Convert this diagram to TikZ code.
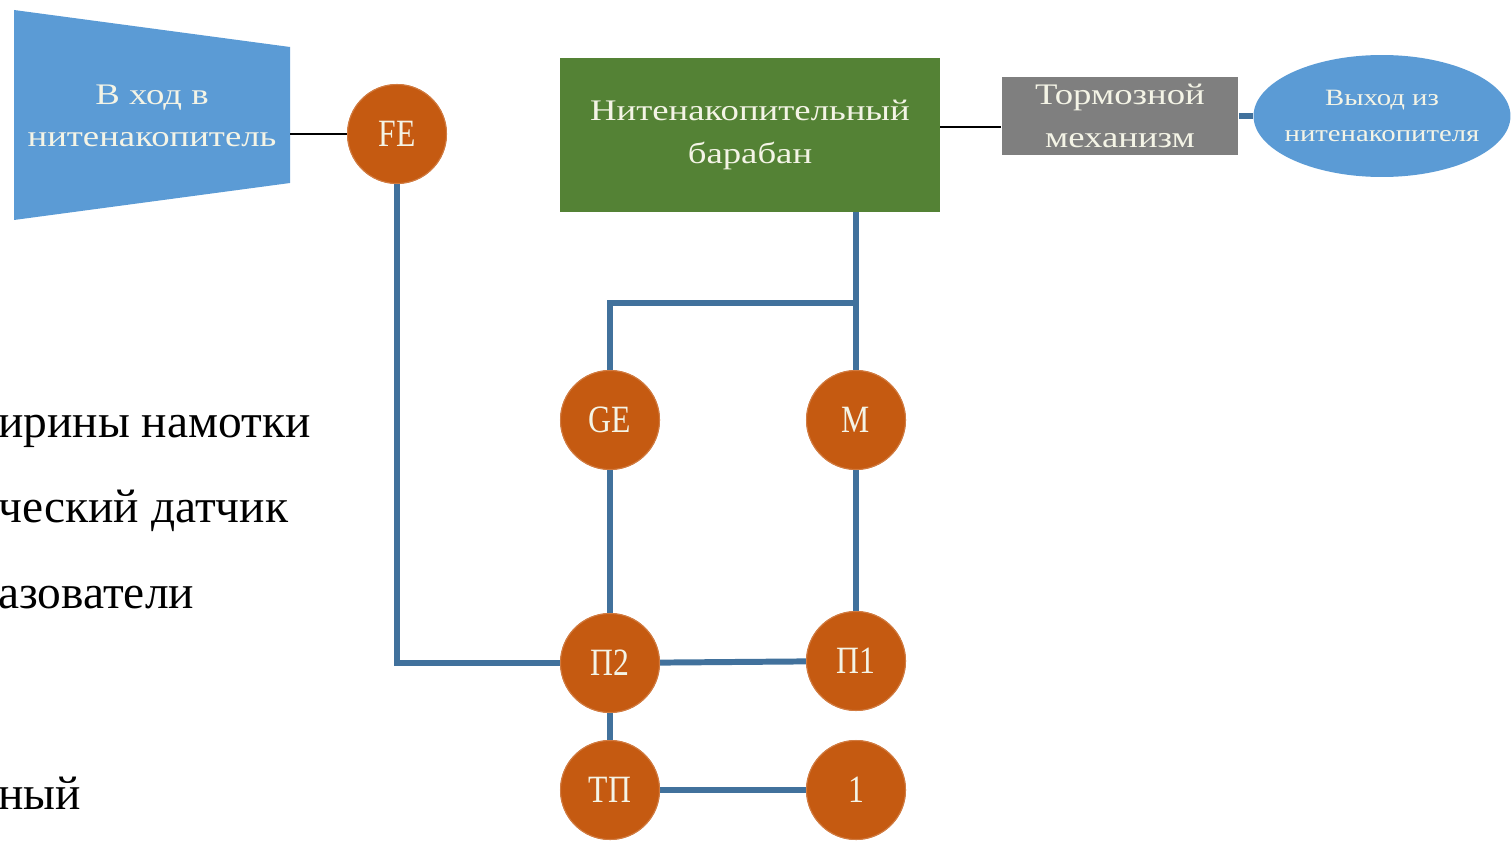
\documentclass[tikz,border=0pt]{standalone}
\usepackage{fontspec}
\setmainfont{Liberation Serif}
\newfontfamily\shapefont[FakeStretch=1.23]{Liberation Serif}
\newfontfamily\circfont[FakeStretch=0.82]{Liberation Serif}
\usetikzlibrary{shapes.geometric}
\definecolor{inblue}{HTML}{5B9BD5}
\definecolor{lineblue}{HTML}{41719C}
\definecolor{circ}{HTML}{C55A11}
\definecolor{drumgreen}{HTML}{548235}
\definecolor{brakegray}{HTML}{7F7F7F}
\definecolor{shapetext}{HTML}{F4F4E6}
\tikzset{
  blueline/.style={draw=lineblue, line width=3.4pt},
  blackline/.style={draw=black, line width=1.6pt},
  dot/.style={circle, fill=circ, draw=circ!80!white, line width=0.6pt, minimum size=1.98cm, inner sep=0pt,
     text=shapetext, font=\circfont\fontsize{22}{24}\selectfont},
  shapelbl/.style={text=shapetext, align=center, font=\shapefont\fontsize{17}{24}\selectfont},
  lefttext/.style={anchor=base west, inner sep=0pt, font=\fontsize{27}{30}\selectfont}
}
\begin{document}
\begin{tikzpicture}[x=0.02cm, y=-0.02cm]
\useasboundingbox (0,0) rectangle (1511,841);
% input trapezoid
\fill[inblue] (14,10) -- (290,47) -- (290,183) -- (14,220) -- cycle;
\node[shapelbl, minimum width=5.52cm, minimum height=2.72cm] (in) at (152,116) {В ход в\\нитенакопитель};
% drum
\node[shapelbl, fill=drumgreen, minimum width=7.6cm, minimum height=3.08cm] (drum) at (750,135) {Нитенакопительный\\барабан};
% brake
\node[shapelbl, fill=brakegray, minimum width=4.74cm, minimum height=1.58cm, inner sep=0pt] (brake) at (1120,116) {Тормозной\\механизм};
% output ellipse
\node[ellipse, fill=inblue, minimum width=5.14cm, minimum height=2.44cm, inner xsep=-14pt, inner ysep=-6pt, text=shapetext, align=center,
  font=\shapefont\fontsize{13.3}{20}\selectfont] (out) at (1382,116) {Выход из\\нитенакопителя};
% circles
\node[dot] (FE) at (397,134) {FE};
\node[dot] (GE) at (610,420) {GE};
\node[dot] (M) at (856,420) {M};
\node[dot] (P2) at (610,663) {П2};
\node[dot] (P1) at (856,661) {П1};
\node[dot] (TP) at (610,790) {ТП};
\node[dot] (one) at (856,790) {1};
\coordinate (j) at (856,303);
% connectors
\draw[blackline] (FE -| in.east) -- (FE);
\draw[blackline] ([yshift=0.16cm]drum.east) -- ([yshift=0.16cm]drum.east -| brake.west);
\draw[blueline] (brake.east) -- (out.west);
\draw[blueline] (FE) |- (P2);
\draw[blueline] (drum.south -| j) -- (j) -- (M);
\draw[blueline] (j) -| (GE);
\draw[blueline] (GE) -- (P2);
\draw[blueline] (M) -- (P1);
\draw[blueline] (P2) -- (P1);
\draw[blueline] (P2) -- (TP);
\draw[blueline] (TP) -- (one);
% redraw circles on top
\foreach \n/\t in {FE/FE,GE/GE,M/M,P2/П2,P1/П1,TP/ТП,one/1} {\node[dot] at (\n) {\t};}
% left text
\node[lefttext] (t1) at (-2,437) {ирины намотки};
\node[lefttext] (t2) at (-2,522) {ческий датчик};
\node[lefttext] (t3) at (-2,608) {азователи};
\node[lefttext] (t4) at (-2,809) {ный};
\end{tikzpicture}
\end{document}
